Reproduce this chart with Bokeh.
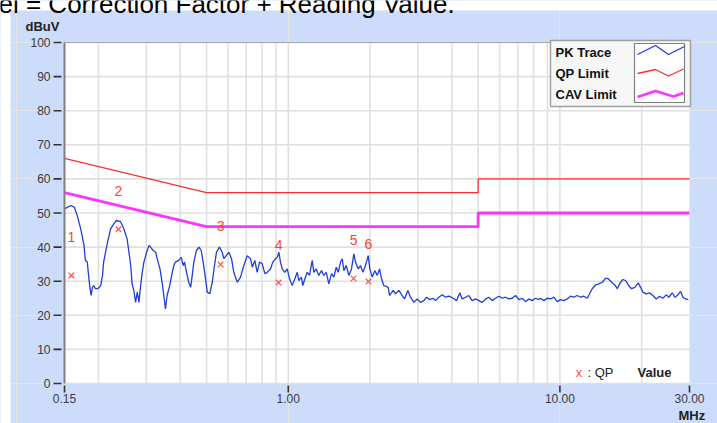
from math import log10
from bokeh.plotting import figure
from bokeh.models import Range1d, LinearScale
from bokeh.core.properties import value
from bokeh.embed import file_html
from bokeh.resources import INLINE

# ---------------- data ----------------
pk_freq = [0.150, 0.158, 0.163, 0.167, 0.172, 0.177, 0.179, 0.182, 0.184, 0.186,
           0.188, 0.190, 0.192, 0.195, 0.199, 0.204, 0.207, 0.209, 0.216, 0.222,
           0.228, 0.233, 0.241, 0.248, 0.255, 0.259, 0.263, 0.266, 0.270, 0.274,
           0.278, 0.282, 0.286, 0.290, 0.294, 0.301, 0.307, 0.311, 0.318, 0.325,
           0.329, 0.337, 0.343, 0.348, 0.353, 0.358, 0.366, 0.374, 0.379, 0.384,
           0.395, 0.404, 0.410, 0.415, 0.422, 0.430, 0.437, 0.443, 0.449, 0.459,
           0.469, 0.478, 0.486, 0.496, 0.503, 0.514, 0.525, 0.535, 0.544, 0.555,
           0.558, 0.571, 0.579, 0.591, 0.604, 0.618, 0.630, 0.649, 0.667, 0.686,
           0.706, 0.726, 0.737, 0.753, 0.768, 0.784, 0.802, 0.820, 0.836, 0.860,
           0.877, 0.898, 0.911, 0.923, 0.936, 0.950, 0.971, 0.991, 1.011, 1.034,
           1.057, 1.079, 1.094, 1.118, 1.131, 1.151, 1.174, 1.197, 1.225, 1.242,
           1.267, 1.295, 1.326, 1.351, 1.380, 1.410, 1.443, 1.472, 1.502, 1.527,
           1.557, 1.580, 1.602, 1.634, 1.671, 1.709, 1.743, 1.768, 1.809, 1.845,
           1.881, 1.924, 1.969, 1.996, 2.038, 2.083, 2.126, 2.168, 2.204, 2.248,
           2.294, 2.333, 2.359, 2.434, 2.482, 2.553, 2.627, 2.679, 2.755, 2.819,
           2.899, 2.984, 3.068, 3.156, 3.228, 3.319, 3.417, 3.484, 3.583, 3.688,
           3.792, 3.900, 4.048, 4.163, 4.281, 4.369, 4.493, 4.620, 4.755, 4.890,
           5.029, 5.176, 5.322, 5.474, 5.634, 5.794, 5.959, 6.133, 6.308, 6.486,
           6.675, 6.866, 7.060, 7.267, 7.472, 7.685, 7.909, 8.133, 8.365, 8.485,
           8.727, 8.982, 9.239, 9.500, 9.777, 10.06, 10.34, 10.64, 10.94, 11.25,
           11.58, 11.91, 12.25, 12.61, 12.86, 13.15, 13.53, 13.91, 14.32, 14.73,
           15.07, 15.50, 15.93, 16.26, 16.58, 17.05, 17.44, 17.85, 18.35, 18.88,
           19.43, 19.81, 20.20, 20.79, 21.38, 21.99, 22.63, 23.27, 23.93, 24.64,
           25.18, 25.93, 26.50, 27.05, 27.82, 28.36, 29.01, 29.69]
pk_level = [51.2, 52.2, 51.7, 49.3, 45.4, 40.5, 36.1, 35.6, 31.7, 28.2,
            25.8, 28.2, 28.7, 27.8, 27.8, 28.7, 31.7, 35.6, 41.4, 45.4,
            46.8, 47.8, 47.5, 45.4, 42.4, 38.5, 34.6, 29.2, 27.3, 23.8,
            26.8, 23.8, 28.7, 32.6, 35.6, 38.5, 40.5, 40.0, 39.0, 38.5,
            36.6, 33.6, 29.7, 25.8, 21.9, 25.8, 28.7, 32.6, 34.6, 35.6,
            36.1, 37.0, 34.6, 35.6, 32.6, 29.7, 28.2, 31.7, 35.6, 39.0,
            40.0, 39.0, 35.6, 30.7, 26.8, 26.3, 29.7, 34.6, 38.5, 39.7,
            40.0, 38.5, 36.6, 37.5, 38.5, 36.6, 32.6, 29.7, 31.2, 34.6,
            37.5, 36.6, 34.1, 36.1, 32.6, 35.6, 35.1, 32.2, 32.6, 33.6,
            35.6, 36.6, 37.0, 38.5, 35.6, 33.6, 32.6, 33.6, 30.7, 28.7,
            30.7, 32.6, 30.2, 31.2, 28.7, 30.7, 32.6, 31.7, 36.1, 32.6,
            33.6, 31.7, 33.1, 31.7, 32.6, 29.2, 32.2, 31.2, 34.1, 32.6,
            35.6, 36.6, 33.1, 34.6, 31.7, 33.6, 38.0, 35.6, 33.6, 34.6,
            32.6, 34.6, 37.5, 33.6, 31.2, 33.1, 31.7, 33.6, 30.7, 28.7,
            28.5, 28.2, 25.8, 27.3, 26.3, 27.3, 25.8, 24.8, 27.3, 25.3,
            23.8, 24.8, 23.8, 24.3, 25.3, 24.6, 25.0, 24.3, 25.3, 26.0,
            25.3, 25.6, 25.0, 24.3, 26.6, 24.8, 25.3, 25.8, 24.3, 24.8,
            24.3, 23.8, 24.8, 25.3, 24.3, 25.0, 25.6, 25.0, 25.3, 24.8,
            25.0, 25.8, 24.6, 25.0, 24.0, 24.8, 24.3, 25.0, 24.6, 25.0,
            24.3, 25.0, 24.8, 25.3, 24.0, 24.6, 24.3, 24.8, 25.6, 25.3,
            25.8, 25.3, 25.6, 25.0, 26.3, 27.8, 28.9, 29.2, 29.7, 30.9,
            30.7, 29.7, 28.9, 27.8, 29.2, 30.5, 30.2, 28.9, 27.8, 28.2,
            29.5, 28.2, 26.8, 26.3, 26.6, 25.8, 24.8, 25.6, 25.0, 26.0,
            25.3, 26.6, 25.3, 25.8, 27.0, 25.3, 24.8, 24.6]

qp_limit_freq = [0.15, 0.5, 5.0, 5.0, 30.0]
qp_limit_level = [66, 56, 56, 60, 60]
cav_limit_freq = [0.15, 0.5, 5.0, 5.0, 30.0]
cav_limit_level = [56, 46, 46, 50, 50]

qp_freq = [0.159, 0.237, 0.563, 0.921, 1.739, 1.974]
qp_level = [31.7, 45.2, 34.9, 29.6, 30.8, 29.9]
qp_labels = ["1", "2", "3", "4", "5", "6"]

y_ticks = [0, 10, 20, 30, 40, 50, 60, 70, 80, 90, 100]
y_tick_labels = ["0", "10", "20", "30", "40", "50", "60", "70", "80", "90", "100"]
x_ticks = [0.15, 1.0, 10.0, 30.0]
x_tick_labels = ["0.15", "1.00", "10.00", "30.00"]
x_grid = [0.2, 0.3, 0.4, 0.5, 0.6, 0.7, 0.8, 0.9, 1, 2, 3, 4, 5, 6, 7, 8, 9, 10, 20]

legend_names = ["PK Trace", "QP Limit", "CAV Limit"]
legend_colors = ["#1f3fd6", "#ff2d2d", "#ff33ff"]
legend_widths = [1.3, 1.3, 2.8]

# ---------------- layout (pixels) ----------------
W, H = 717, 423
PL, PR, PT, PB = 64, 689, 42, 383          # plot area edges
FONT = "Liberation Sans"
BLUE_BG = "#cddcfa"
F0, F1 = x_ticks[0], x_ticks[-1]
V0, V1 = y_ticks[0], y_ticks[-1]
dec_per_px = (log10(F1) - log10(F0)) / (PR - PL)
x_start = 10 ** (log10(F0) - PL * dec_per_px)
x_end = 10 ** (log10(F1) + (W - PR) * dec_per_px)
val_per_px = (V1 - V0) / (PB - PT)
y_start = V0 - (H - PB) * val_per_px
y_end = V1 + PT * val_per_px

p = figure(width=W, height=H, x_axis_type="log",
           x_range=Range1d(x_start, x_end), y_range=Range1d(y_start, y_end),
           x_axis_location=None, y_axis_location=None,
           output_backend="svg", toolbar_location=None,
           min_border=0, min_border_left=0, min_border_right=0,
           min_border_top=0, min_border_bottom=0)
p.border_fill_color = BLUE_BG
p.background_fill_color = BLUE_BG
p.outline_line_color = None

# pixel-space ranges (y downwards, like the picture)
p.extra_x_ranges = {"px": Range1d(0, W)}
p.extra_x_scales = {"px": LinearScale()}
p.extra_y_ranges = {"px": Range1d(H, 0)}
PX = dict(x_range_name="px", y_range_name="px")

# white page strip at top/left
p.quad(left=[0, 0], right=[W, 10], top=[0, 0], bottom=[10, H],
       fill_color="white", line_color=None, **PX)

# plot area
p.quad(left=[F0], right=[F1], bottom=[V0], top=[V1],
       fill_color="white", line_color=None)

# grid
p.segment(x0=x_grid, x1=x_grid, y0=[V0] * len(x_grid), y1=[V1] * len(x_grid),
          line_color="#e0e0e0", line_width=1.6)
p.segment(x0=[F0] * len(y_ticks), x1=[F1] * len(y_ticks), y0=y_ticks, y1=y_ticks,
          line_color="#e0e0e0", line_width=1.6)
p.segment(x0=[F0], x1=[F1], y0=[V1], y1=[V1], line_color="#a8a8a8", line_width=1)

# data lines
p.line(qp_limit_freq, qp_limit_level, line_color=legend_colors[1], line_width=1.3)
p.line(cav_limit_freq, cav_limit_level, line_color=legend_colors[2], line_width=2.8)
p.line(pk_freq, pk_level, line_color=legend_colors[0], line_width=1.3)

# QP markers + numbers
p.scatter(qp_freq, qp_level, marker="x", size=8, line_color="#ff4d4d", line_width=1.2)
p.text(qp_freq, qp_level, text=qp_labels, y_offset=-38,
       text_align="center", text_baseline="middle",
       text_font=value(FONT), text_font_size="14px", text_color="#ff3f2a")

# y axis
p.segment(x0=[F0], x1=[F0], y0=[V0], y1=[V1], line_color="#808080", line_width=2)
p.segment(x0=[53] * len(y_ticks), x1=[61] * len(y_ticks), y0=y_ticks, y1=y_ticks,
          line_color="#333333", line_width=1.6, x_range_name="px")
p.text([50] * len(y_ticks), y_ticks, text=y_tick_labels,
       text_align="right", text_baseline="middle",
       text_font=value(FONT), text_font_size="12px", text_color="#3a3a3a",
       x_range_name="px")

# x axis
p.segment(x0=x_ticks, x1=x_ticks, y0=[385] * len(x_ticks), y1=[392] * len(x_ticks),
          line_color="#333333", line_width=1.6, y_range_name="px")
p.text(x_ticks, [398] * len(x_ticks), text=x_tick_labels,
       text_align="center", text_baseline="middle",
       text_font=value(FONT), text_font_size="12px", text_color="#3a3a4a",
       y_range_name="px")

# axis titles and page text
p.text([25], [25.5], text=["dBuV"], text_baseline="middle",
       text_font=value(FONT), text_font_size="13px", text_font_style="bold",
       text_color="#222222", **PX)
p.text([678], [415], text=["MHz"], text_baseline="middle",
       text_font=value(FONT), text_font_size="13px", text_font_style="bold",
       text_color="#222222", **PX)
p.text([-2], [3], text=["el = Correction Factor + Reading Value."],
       text_baseline="middle", text_font=value(FONT), text_font_size="26px",
       text_color="#000000", **PX)

# ---------------- legend ----------------
p.quad(left=[550], right=[690], top=[40], bottom=[106],
       fill_color="#f7f7f7", line_color="#a0a0a0", line_width=1.5, **PX)
p.quad(left=[634], right=[684], top=[43], bottom=[102],
       fill_color="white", line_color="#808080", line_width=1.2, **PX)
p.text([555, 555, 555], [51.5, 72.5, 93.5], text=legend_names,
       text_baseline="middle", text_font=value(FONT), text_font_size="13px",
       text_font_style="bold", text_color="#111111", **PX)
p.line([637, 655, 668, 684], [54, 45, 54, 46],
       line_color=legend_colors[0], line_width=legend_widths[0], **PX)
p.line([637, 655, 668, 683], [73, 69, 75.5, 68.5],
       line_color=legend_colors[1], line_width=legend_widths[1], **PX)
p.line([637, 655, 673, 683], [96.5, 90.5, 96, 92.5],
       line_color=legend_colors[2], line_width=legend_widths[2], **PX)

# "x : QP  Value" note
p.text([578.5], [372], text=["x"], text_align="center", text_baseline="middle",
       text_font=value(FONT), text_font_size="13px", text_color="#ff4d4d", **PX)
p.text([587], [372], text=[": QP"], text_baseline="middle",
       text_font=value(FONT), text_font_size="13px", text_color="#222222", **PX)
p.text([637], [372], text=["Value"], text_baseline="middle",
       text_font=value(FONT), text_font_size="13px", text_font_style="bold",
       text_color="#222222", **PX)

open("out.html", "w").write(file_html(p, INLINE))
